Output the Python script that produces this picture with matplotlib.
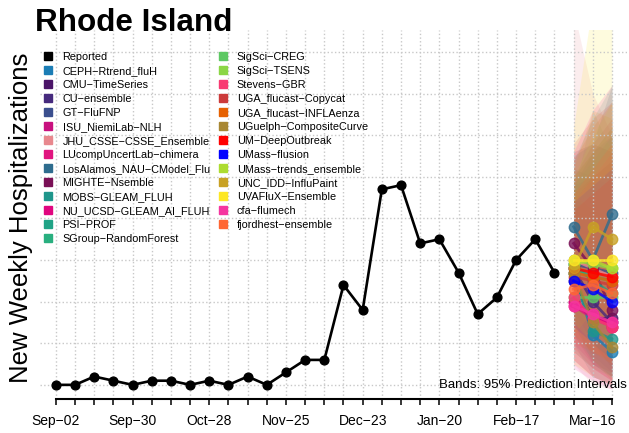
import numpy as np
import pandas as pd
import matplotlib
matplotlib.use("Agg")
import matplotlib.pyplot as plt
import matplotlib.dates as mdates
from matplotlib.lines import Line2D

plt.rcParams['font.family'] = ['Liberation Sans', 'DejaVu Sans']

# ===============================
# Datos
# ===============================
weeks = pd.date_range("2023-09-02", periods=30, freq="7D")
obs_dates = weeks[:27]
fc_dates = weeks[27:]

reported = [0, 0, 2, 1, 0, 1, 1, 0, 1, 0, 2, 0, 3, 6, 6,
            24, 18, 47, 48, 34, 35, 27, 17, 21, 30, 35, 27]

models = ["CEPH-Rtrend_fluH", "CMU-TimeSeries", "CU-ensemble", "GT-FluFNP",
          "ISU_NiemiLab-NLH", "JHU_CSSE-CSSE_Ensemble", "LUcompUncertLab-chimera",
          "LosAlamos_NAU-CModel_Flu", "MIGHTE-Nsemble", "MOBS-GLEAM_FLUH",
          "NU_UCSD-GLEAM_AI_FLUH", "PSI-PROF", "SGroup-RandomForest",
          "SigSci-CREG", "SigSci-TSENS", "Stevens-GBR", "UGA_flucast-Copycat",
          "UGA_flucast-INFLAenza", "UGuelph-CompositeCurve", "UM-DeepOutbreak",
          "UMass-flusion", "UMass-trends_ensemble", "UNC_IDD-InfluPaint",
          "UVAFluX-Ensemble", "cfa-flumech", "fjordhest-ensemble"]

colors = ["#1B7DB5", "#4B1468", "#462A7D", "#3B4F8E", "#C8117F", "#E8888E",
          "#E0157F", "#2E6C8E", "#7A1056", "#1F968B", "#E0067F", "#20A386",
          "#29AF7F", "#5DC863", "#8BD646", "#F83A72", "#CC3A3A", "#E66101",
          "#A88733", "#FF0000", "#0000FF", "#ADDC30", "#C8A124", "#FDE725",
          "#F535A0", "#FF6633"]

median = [[27, 12, 8], [25, 16, 16], [28, 20, 15], [29, 28, 27], [20, 17, 14],
          [30, 28, 26], [19, 16, 14], [38, 30, 41], [34, 28, 18], [27, 13, 11],
          [20, 16, 15], [29, 25, 22], [28, 26, 25], [21, 21, 21], [30, 29, 28],
          [21, 16, 14], [26, 25, 24], [27, 26, 25], [27, 15, 9], [28, 27, 26],
          [25, 23, 20], [29, 30, 28], [28, 38, 35], [30, 30, 30], [19, 17, 15],
          [23, 24, 22]]

lower = [[10, 2, 0], [12, 5, 2], [14, 7, 3], [15, 10, 6], [6, 2, 0],
         [5, 0, -1], [8, 4, 1], [22, 14, 18], [18, 10, 4], [15, 5, 2],
         [10, 5, 3], [12, 6, 2], [16, 10, 6], [8, 4, 2], [18, 14, 10],
         [9, 4, 1], [6, 2, 0], [12, 8, 5], [16, 6, 1], [20, 17, 14],
         [14, 10, 6], [15, 10, 6], [12, 18, 14], [5, 2, 0], [4, 1, -1],
         [10, 8, 6]]

upper = [[52, 50, 48], [48, 50, 54], [50, 56, 60], [48, 56, 62], [50, 58, 64],
         [90, 70, 60], [46, 50, 54], [55, 58, 72], [56, 58, 56], [46, 40, 40],
         [44, 46, 50], [54, 64, 72], [48, 54, 60], [46, 66, 56], [50, 56, 62],
         [44, 50, 56], [58, 64, 68], [54, 62, 68], [46, 42, 40], [42, 46, 50],
         [44, 48, 52], [50, 60, 68], [52, 66, 64], [62, 92, 95], [56, 66, 72],
         [46, 52, 58]]

# ===============================
# Figura
# ===============================
fig = plt.figure(figsize=(6.29, 4.33), dpi=100)
ax = fig.add_axes([40/629, 34/433, 587/629, 369/433])

for c, lo, up in zip(colors, lower, upper):
    ax.fill_between(fc_dates, lo, up, color=c, alpha=0.15, lw=0, zorder=1)

for c, m in zip(colors, median):
    ax.plot(fc_dates, m, '-o', color=c, lw=2, ms=7.5, alpha=0.8, zorder=3)

ax.plot(obs_dates, reported, '-o', color='black', lw=1.9, ms=6.3, zorder=4)

ax.set_xlim(weeks[0] - pd.Timedelta(days=5.8), weeks[-1] + pd.Timedelta(days=5.5))
ax.set_ylim(-3.4, 85.3)

ax.set_xticks(weeks)
ax.set_xticklabels([d.strftime("%b-%d").replace("-", "\u2212") if i % 4 == 0 else ""
                    for i, d in enumerate(weeks)], fontsize=10)
ax.set_yticks(np.arange(0, 90, 10))
ax.tick_params(axis='y', length=0, labelleft=False)
ax.tick_params(axis='x', length=4.5, width=1.1, pad=6, colors='black')
ax.grid(True, linestyle=':', color='#c8c8c8', lw=1, zorder=0)

for s in ['top', 'right', 'left']:
    ax.spines[s].set_visible(False)
ax.spines['bottom'].set_bounds(mdates.date2num(weeks[0]), mdates.date2num(weeks[-1]))
ax.spines['bottom'].set_linewidth(1.5)

ax.set_ylabel("New Weekly Hospitalizations", fontsize=18.5)
ax.yaxis.set_label_coords(-0.012, 0.49)

fig.text(35/629, 1 - 31/433, "Rhode Island", fontsize=22.6, fontweight='bold',
         ha='left', va='baseline')
fig.text(627/629, 1 - 385/433, "Bands: 95% Prediction Intervals", fontsize=9.5,
         ha='right', va='center')

# ===============================
# Leyenda
# ===============================
handles = [Line2D([], [], marker='s', ls='none', color='black', ms=6)]
handles += [Line2D([], [], marker='s', ls='none', color=c, ms=6) for c in colors]
labels = [t.replace("-", "\u2212") for t in ["Reported"] + models]
fig.legend(handles, labels, loc='upper left', ncol=2, frameon=False,
           bbox_to_anchor=(43/629, 1 - 52/433), borderpad=0, borderaxespad=0,
           fontsize=7.8, handlelength=1.0, handletextpad=0.8,
           labelspacing=0.37, columnspacing=0.6)

fig.savefig("out.png", dpi=100)
